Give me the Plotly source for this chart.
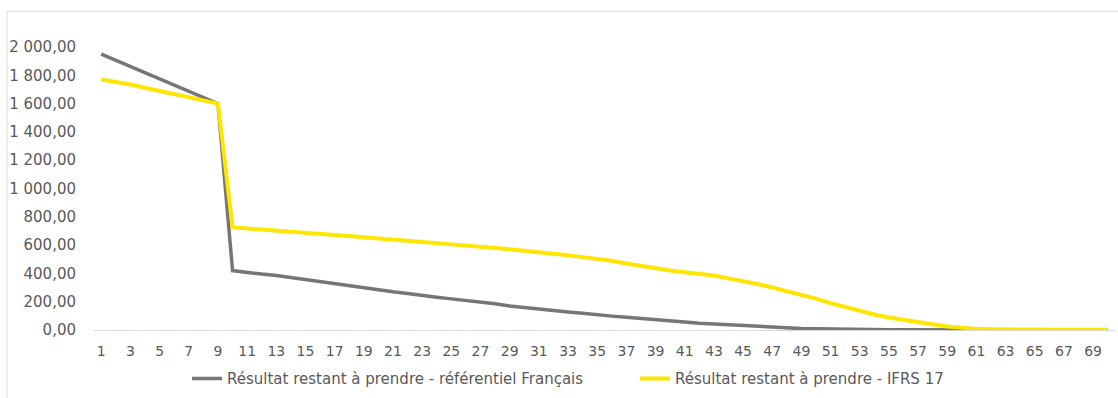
import plotly.graph_objects as go

# Année / période (axe des catégories)
periodes = list(range(1, 71))

# Résultat restant à prendre - référentiel Français
resultat_fr = [
    1950, 1906, 1862, 1819, 1775, 1731, 1687, 1644, 1600,
    420, 405, 395, 385, 370, 355, 340, 325, 312, 300,
    285, 270, 258, 248, 232, 220, 210, 196, 185, 170,
    158, 150, 138, 128, 118, 106, 98, 90, 80, 72,
    64, 56, 48, 42, 36, 30, 24, 18, 14, 10,
    8, 8, 6, 3, 2, 2, 1, 1, 1, 1,
    1, 0, 0, 0, 0, 0, 0, 0, 0, 0, 0,
]

# Résultat restant à prendre - IFRS 17
resultat_ifrs = [
    1770, 1755, 1735, 1712, 1690, 1667, 1645, 1622, 1600,
    725, 718, 712, 705, 698, 690, 683, 675, 665, 655,
    645, 637, 630, 622, 614, 607, 598, 590, 580, 570,
    560, 552, 540, 528, 515, 505, 490, 470, 452, 438,
    420, 408, 398, 385, 365, 348, 325, 300, 275, 250,
    222, 190, 162, 135, 110, 88, 70, 55, 40, 25,
    15, 8, 5, 3, 2, 1, 1, 1, 1, 1, 1,
]

GRAY = "#767676"
YELLOW = "#FFE600"
TEXT = "#595959"
TICK_FONT = "DejaVu Sans, sans-serif"
LEGEND_FONT = "DejaVu Sans, sans-serif"

fig = go.Figure()
fig.add_trace(go.Scatter(
    x=periodes, y=resultat_fr, mode="lines",
    name="Résultat restant à prendre - référentiel Français",
    line=dict(color=GRAY, width=3.5),
))
fig.add_trace(go.Scatter(
    x=periodes, y=resultat_ifrs, mode="lines",
    name="Résultat restant à prendre - IFRS 17",
    line=dict(color=YELLOW, width=4),
))

L, R, T, B = 94, 3, 47, 66
W, H = 1118, 398
pw, ph = W - L - R, H - T - B

fig.update_layout(
    width=W, height=H,
    margin=dict(l=L, r=R, t=T, b=B),
    plot_bgcolor="white", paper_bgcolor="white",
    separators=", ",
    font=dict(family=TICK_FONT, size=14, color=TEXT),
    showlegend=True,
    legend=dict(orientation="h", x=(187 - L) / pw, xanchor="left",
                y=-49 / ph, yanchor="middle",
                font=dict(family=LEGEND_FONT, size=15, color=TEXT),
                entrywidth=403, itemwidth=30, tracegroupgap=0),
    shapes=[dict(type="rect", xref="paper", yref="paper",
                 x0=-(L - 7) / pw, x1=1 + 10 / pw,
                 y0=-(B + 10) / ph, y1=1 + (T - 11) / ph,
                 line=dict(color="#d9d9d9", width=1), fillcolor="rgba(0,0,0,0)")],
)
fig.update_xaxes(
    range=[0.5, 70.5], tickmode="array", tickvals=periodes[::2],
    showgrid=False, showline=True, linecolor="#d9d9d9", linewidth=1,
    ticks="", zeroline=False, ticklabelstandoff=8,
    tickfont=dict(family=TICK_FONT, size=14, color=TEXT),
)
fig.update_yaxes(
    range=[0, 2000], dtick=200, tickformat=",.2f",
    showgrid=False, zeroline=False, showline=False, ticks="",
    ticklabelstandoff=17,
    tickfont=dict(family=TICK_FONT, size=15, color=TEXT),
)

fig.write_html("out.html", config={"displayModeBar": False},
               post_script="document.body.style.margin='0';")
